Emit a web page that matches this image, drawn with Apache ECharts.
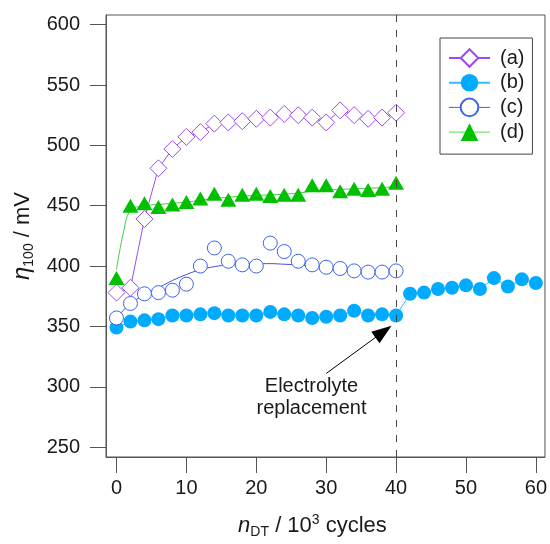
<!DOCTYPE html>
<html>
<head>
<meta charset="utf-8">
<script src="https://cdn.jsdelivr.net/npm/echarts@6/dist/echarts.min.js"></script>
<style>
html, body { margin: 0; padding: 0; background: #fff; }
#chart { width: 550px; height: 544px; }
</style>
</head>
<body>
<div id="chart"></div>
<script>
// tick labels
const xTicks = [0, 10, 20, 30, 40, 50, 60];
const yTicks = [250, 300, 350, 400, 450, 500, 550, 600];

// cycles (10^3) for series a, c, d
const cyclesACD = [0, 2, 4, 6, 8, 10, 12, 14, 16, 18, 20, 22, 24, 26, 28, 30, 32, 34, 36, 38, 40];
// cycles for series b (runs past the electrolyte replacement)
const cyclesB = [0, 2, 4, 6, 8, 10, 12, 14, 16, 18, 20, 22, 24, 26, 28, 30, 32, 34, 36, 38, 40,
                 42, 44, 46, 48, 50, 52, 54, 56, 58, 60];

// eta_100 / mV
const etaA = [378, 382, 439, 481, 497, 507, 511, 518, 519, 520, 522, 523, 526, 525, 523, 519, 529, 525, 522, 523, 527];
const etaB = [349, 354, 355, 356, 359, 359, 360, 361, 359, 359, 359, 362, 360, 359, 357, 358, 359, 363, 359, 360, 359,
              377, 378, 381, 382, 384, 381, 390, 383, 389, 386];
const etaC = [357, 369, 377, 378, 380, 385, 400, 415, 404, 401, 400, 419, 412, 404, 401, 399, 398, 396, 395, 395, 396];
const etaD = [390, 450, 452, 449, 451, 453, 456, 460, 455, 459, 460, 458, 459, 459, 467, 467, 462, 464, 463, 464, 469];

// trend lines
const fitCX = [0, 2, 4, 6, 8, 10, 12, 14, 16, 18, 20, 22, 24, 26, 28, 30, 32, 34, 36, 38, 40];
const fitC = [357, 369, 376, 382, 388, 393, 397, 399.5, 401, 402, 402, 402, 401.5, 401, 400, 399, 398, 397, 396.5, 396, 395.5];
const fitDX = [0, 1, 2, 4, 6, 8, 10, 12, 14, 16, 18, 20, 22, 24, 26, 28, 30, 32, 34, 36, 38, 40];
const fitD = [397, 428, 446, 450, 451, 452, 453, 454.5, 456, 457, 458, 458.5, 459, 459.5, 460.5, 462, 463, 463.5, 464, 464.5, 465, 466];

const pairs = (xs, ys) => xs.map((x, i) => [x, ys[i]]);

const font = 'Liberation Sans, Arial, sans-serif';
const ink = '#1a1a1a';
const frame = '#555';

const colA = '#9a4cf0';
const colB = '#00aaff';
const colC = '#3d63f0';
const colD = '#00c000';

const chart = echarts.init(document.getElementById('chart'));

const option = {
  animation: false,
  backgroundColor: '#fff',
  textStyle: { fontFamily: font },
  grid: {
    left: 106, top: 15, right: 4, bottom: 82,
    show: true, borderColor: frame, borderWidth: 1
  },
  legend: {
    data: [
      { name: '(a)' },
      { name: '(b)' },
      { name: '(c)', lineStyle: { opacity: 1, width: 1 } },
      { name: '(d)', lineStyle: { opacity: 1, width: 1, color: '#55dd55' } }
    ],
    orient: 'vertical',
    left: 440, top: 38,
    itemWidth: 41, itemHeight: 22, itemGap: 4.7,
    padding: [10, 8, 12, 8],
    borderColor: '#444', borderWidth: 1,
    backgroundColor: '#fff',
    textStyle: { fontSize: 20, color: ink, padding: [0, 0, 0, 5] }
  },
  xAxis: {
    type: 'value', min: -1.5, max: 61.3,
    axisLine: { show: true, onZero: false, lineStyle: { color: frame } },
    axisTick: { show: true, length: 16, customValues: xTicks, lineStyle: { color: frame } },
    axisLabel: { customValues: xTicks, fontSize: 20, color: ink, margin: 21 },
    splitLine: { show: false },
    name: '{i|n}{s|DT} / 10{p|3} cycles',
    nameLocation: 'middle', nameGap: 56,
    nameTextStyle: {
      fontSize: 22, color: ink, lineHeight: 26, padding: [0, 26, 0, 0],
      rich: {
        i: { fontSize: 22, fontStyle: 'italic', lineHeight: 26 },
        s: { fontSize: 14, lineHeight: 10, verticalAlign: 'bottom' },
        p: { fontSize: 14, lineHeight: 12, verticalAlign: 'top' }
      }
    }
  },
  yAxis: {
    type: 'value', min: 241.8, max: 608,
    axisLine: { show: true, onZero: false, lineStyle: { color: frame } },
    axisTick: { show: true, length: 16, customValues: yTicks, lineStyle: { color: frame } },
    axisLabel: { customValues: yTicks, fontSize: 20, color: ink, margin: 26 },
    splitLine: { show: false },
    name: '{i|η}{s|100} / mV',
    nameLocation: 'middle', nameGap: 70,
    nameTextStyle: {
      fontSize: 22, color: ink, lineHeight: 26,
      rich: {
        i: { fontSize: 24, fontStyle: 'italic', lineHeight: 26 },
        s: { fontSize: 14, lineHeight: 10, verticalAlign: 'bottom' }
      }
    }
  },
  series: [
    {
      name: '(a)', type: 'line',
      data: pairs(cyclesACD, etaA),
      symbol: 'diamond', symbolSize: 17,
      itemStyle: { color: '#fff', borderColor: colA, borderWidth: 1 },
      lineStyle: { color: colA, width: 1 },
      markLine: {
        silent: true, animation: false,
        symbol: ['none', 'none'],
        label: { show: false },
        lineStyle: { color: '#444', width: 1, type: [7, 8] },
        data: [{ xAxis: 40 }]
      }
    },
    {
      name: '(b)', type: 'line',
      data: pairs(cyclesB, etaB),
      symbol: 'circle', symbolSize: 14,
      itemStyle: { color: colB },
      lineStyle: { color: '#33bbff', width: 1 },
      // arrow pointing at the replacement point
      markLine: {
        silent: true, animation: false,
        label: { show: false },
        lineStyle: { color: '#000', width: 1, type: 'solid' },
        data: [[
          { coord: [30.0, 311], symbol: 'none' },
          { coord: [38.2, 345.7], symbol: 'triangle', symbolSize: [14, 20] }
        ]]
      }
    },
    {
      type: 'line', data: pairs(fitCX, fitC),
      smooth: 0.4, symbol: 'none', silent: true,
      lineStyle: { color: '#4a4ae6', width: 1 }
    },
    {
      name: '(c)', type: 'line',
      data: pairs(cyclesACD, etaC),
      symbol: 'circle', symbolSize: 14,
      itemStyle: { color: '#fff', borderColor: colC, borderWidth: 1 },
      lineStyle: { color: colC, width: 1, opacity: 0 }
    },
    {
      type: 'line', data: pairs(fitDX, fitD),
      smooth: 0.4, symbol: 'none', silent: true,
      lineStyle: { color: '#44cc44', width: 1 }
    },
    {
      name: '(d)', type: 'line',
      data: pairs(cyclesACD, etaD),
      symbol: 'triangle', symbolSize: [16, 14],
      itemStyle: { color: colD },
      lineStyle: { color: colD, width: 1, opacity: 0 }
    }
  ]
};

chart.setOption(option);

// annotation text under the arrow
const p = chart.convertToPixel({ gridIndex: 0 }, [27.9, 291.5]);
chart.setOption({
  graphic: [{
    type: 'text', x: p[0], y: p[1], silent: true,
    style: {
      text: 'Electrolyte\nreplacement',
      font: '20px ' + font, fill: ink,
      align: 'center', verticalAlign: 'middle', lineHeight: 22
    }
  }]
});
</script>
</body>
</html>
